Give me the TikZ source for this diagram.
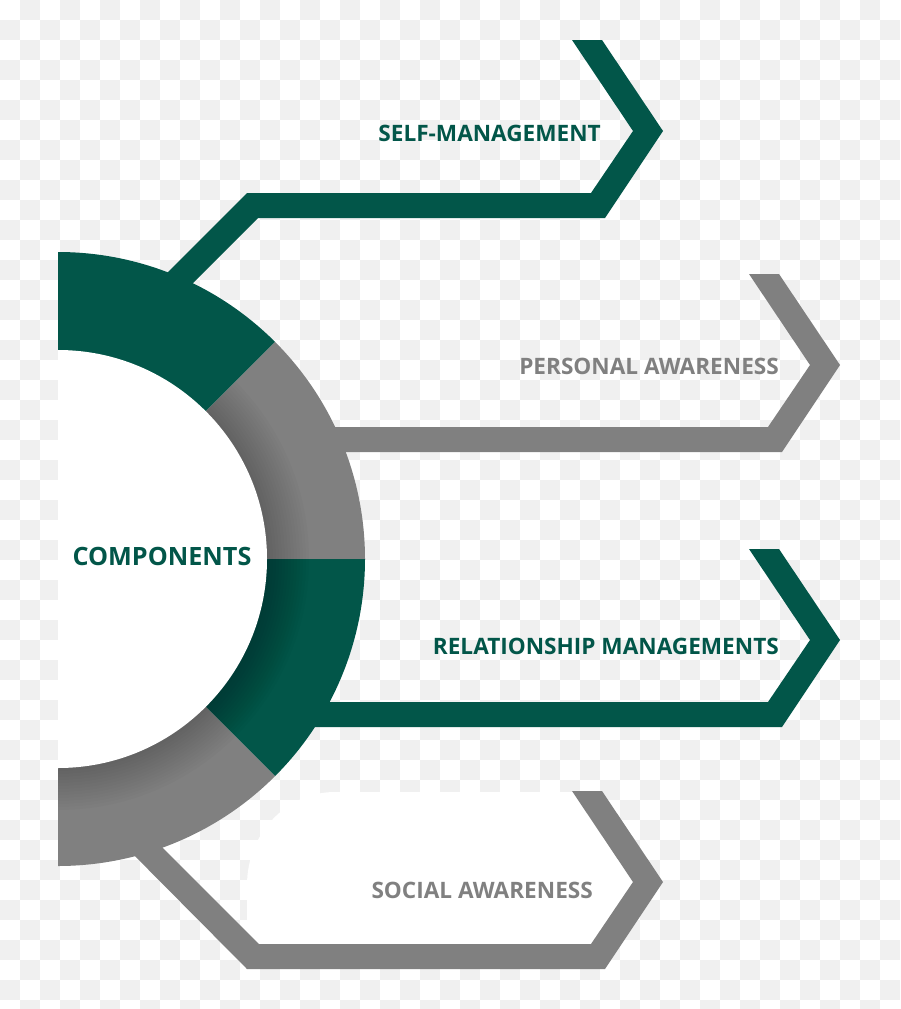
\documentclass[tikz,border=0pt]{standalone}
\usepackage{fontspec}
\setmainfont{Open Sans}
\usetikzlibrary{calc}
\definecolor{egreen}{RGB}{2,86,73}
\definecolor{egray}{RGB}{128,128,128}
\definecolor{checker}{RGB}{240,240,240}
\tikzset{
  greenband/.style={fill=egreen},
  grayband/.style={fill=egray},
  greenlabel/.style={text=egreen,font=\fontsize{22.6}{27}\selectfont\bfseries,inner sep=0pt,anchor=base east},
  graylabel/.style={text=egray,font=\fontsize{22.6}{27}\selectfont\bfseries,inner sep=0pt,anchor=base east},
  centerlabel/.style={text=egreen,font=\fontsize{25.2}{30}\selectfont\bfseries,inner sep=0pt,anchor=base},
}
\begin{document}
\begin{tikzpicture}[x=1pt,y=1pt]
\useasboundingbox (0,0) rectangle (900,-1009);
\clip (0,0) rectangle (900,-1009);
% transparency checkerboard
\fill[white] (0,0) rectangle (900,-1009);
\foreach \i in {0,...,44}{
  \foreach \j in {0,...,50}{
    \pgfmathtruncatemacro\p{mod(\i+\j,2)}
    \ifnum\p=1 \fill[checker] (\i*20,-\j*20) rectangle ++(20,-20); \fi
  }
}
% white patch behind social awareness
\fill[white] (247,-944) -- (247,-885) .. controls (247,-835) and (285,-792) .. (335,-792) -- (590,-792) -- (633,-882) -- (591,-944) -- cycle;
% bands
\fill[greenband] (572,-40) -- (602,-40) -- (663,-131) -- (605,-218) -- (258,-218) -- (158,-318) -- (140,-300) -- (247,-193) -- (591,-193) -- (633,-131) -- cycle;
\fill[grayband] (749,-274) -- (779,-274) -- (840,-365) -- (782,-452) -- (300,-452) -- (300,-427) -- (768,-427) -- (810,-365) -- cycle;
\fill[greenband] (749,-549) -- (779,-549) -- (840,-640) -- (782,-727) -- (290,-727) -- (290,-702) -- (768,-702) -- (810,-640) -- cycle;
\fill[grayband] (572,-791) -- (602,-791) -- (663,-882) -- (605,-969) -- (247,-969) -- (117,-838) -- (135,-820) -- (259,-944) -- (591,-944) -- (633,-882) -- cycle;
% ring
\coordinate (C) at (58,-559);
\fill[egreen] (C) -- ++(90:307) arc[start angle=90,end angle=45,radius=307] -- cycle;
\fill[egray] (C) -- ++(45:307) arc[start angle=45,end angle=0,radius=307] -- cycle;
\fill[egreen] (C) -- ++(0:307) arc[start angle=0,end angle=-45,radius=307] -- cycle;
\fill[egray] (C) -- ++(-45:307) arc[start angle=-45,end angle=-90,radius=307] -- cycle;
% soft shadow of the inner disc
\begin{scope}
  \clip (C) -- ++(45:307) arc[start angle=45,end angle=-90,radius=307] -- cycle;
  \foreach \k in {1,...,14}{
    \fill[black,opacity=0.014] (C) circle[radius=209+3*\k];
  }
\end{scope}
% inner white half disc
\fill[white] (C) -- ++(90:209) arc[start angle=90,end angle=-90,radius=209] -- cycle;
% labels
\node[centerlabel] (comp) at (162,-565) {COMPONENTS};
\node[greenlabel] (self) at (601,-141) {SELF-MANAGEMENT};
\node[graylabel] (pers) at (779,-374) {PERSONAL AWARENESS};
\node[greenlabel] (rel) at (779,-654) {RELATIONSHIP MANAGEMENTS};
\node[graylabel] (soc) at (593,-898) {SOCIAL AWARENESS};
\end{tikzpicture}
\end{document}
